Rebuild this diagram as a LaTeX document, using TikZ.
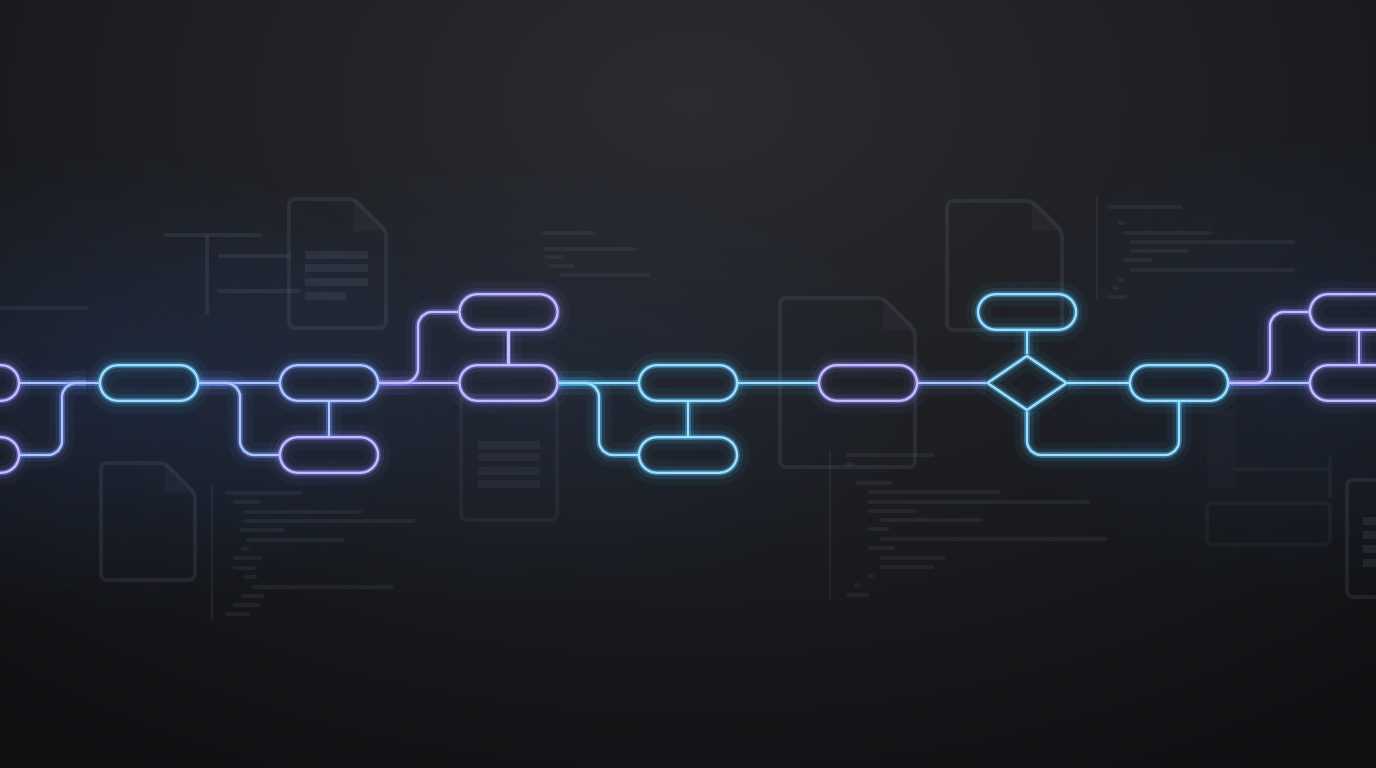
\documentclass[tikz,border=0pt]{standalone}
\usetikzlibrary{fadings,shapes.geometric,shapes.misc}
\definecolor{bgdark}{RGB}{15,16,18}
\definecolor{bgtop}{RGB}{42,44,48}
\definecolor{cy}{RGB}{80,195,255}
\definecolor{bl}{RGB}{110,150,255}
\definecolor{vi}{RGB}{145,135,255}
\definecolor{ghost}{RGB}{120,130,150}
\definecolor{haze}{RGB}{45,75,140}
\tikzfading[name=band, top color=transparent!100, middle color=transparent!60, bottom color=transparent!100]
\tikzfading[name=fuzzy, inner color=transparent!40, outer color=transparent!100]
\tikzset{
  glowline/.style={draw=#1!55!white, line width=0.65pt,
    preaction={draw=#1, line width=7pt, draw opacity=0.05},
    preaction={draw=#1, line width=3.6pt, draw opacity=0.11},
    preaction={draw=#1, line width=1.6pt, draw opacity=0.4}},
  pill/.style={rounded rectangle, minimum width=0.98cm, minimum height=0.355cm,
    inner sep=0pt, glowline=#1},
  wire/.style={glowline=#1, rounded corners=0.14cm},
  ghostline/.style={draw=ghost, draw opacity=0.15, line width=1.1pt,
    rounded corners=0.06cm, line join=round},
  codebar/.style={draw=ghost, draw opacity=0.12, line width=1.3pt, line cap=round},
}
\newcommand\ghostdoc[5]{%
  \fill[ghost, opacity=0.07] ({#3-#5},#2) -- (#3,{#2+#5}) -- ({#3-#5},{#2+#5}) -- cycle;
  \draw[ghostline] (#1,#2) -- ({#3-#5},#2) -- (#3,{#2+#5}) -- (#3,#4) -- (#1,#4) -- cycle;}
\newcommand\codebarline[3]{\draw[codebar] (#1,#3) -- (#2,#3);}
\begin{document}
\begin{tikzpicture}[x=0.01cm, y=-0.01cm]
\useasboundingbox (0,0) rectangle (1376,768);
\clip (0,0) rectangle (1376,768);
% background
\fill[bgdark] (0,0) rectangle (1376,768);
\shade[inner color=bgtop, outer color=bgdark] (690,100) ellipse (1150 and 760);
\fill[haze, path fading=band, opacity=0.22] (0,260) rectangle (1376,510);
\fill[haze, path fading=fuzzy, opacity=0.45] (100,383) ellipse (380 and 240);
\fill[haze, path fading=fuzzy, opacity=0.3] (500,383) ellipse (460 and 240);
\fill[haze, path fading=fuzzy, opacity=0.35] (1320,360) ellipse (360 and 240);

% ghost documents and panels
\draw[ghostline] (164,235) -- (262,235);
\draw[ghostline] (207,235) -- (207,315);
\draw[ghostline] (218,256) -- (290,256);
\draw[ghostline] (218,291) -- (300,291);
\ghostdoc{289}{199}{386}{328}{32}
\foreach \yy in {255,268,282} {\draw[ghostline, line width=2pt] (305,\yy) -- (368,\yy);}
\draw[ghostline, line width=2pt] (305,296) -- (346,296);
\ghostdoc{101}{463}{195}{580}{30}
\draw[ghostline, draw opacity=0.1] (461,395) rectangle (557,520);
\foreach \yy in {445,457,471,484} {\draw[ghostline, draw opacity=0.1, line width=2pt] (478,\yy) -- (540,\yy);}
\ghostdoc{780}{298}{915}{467}{32}
\ghostdoc{947}{201}{1062}{330}{30}
\draw[ghostline] (1390,480) -- (1347,480) -- (1347,597) -- (1390,597);
\foreach \yy in {521,535,549,563} {\draw[ghostline, line width=2pt] (1363,\yy) -- (1380,\yy);}
\fill[ghost, opacity=0.04] (1207,410) rectangle (1235,488);
\draw[ghostline, draw opacity=0.08] (1235,469) -- (1330,469);
\draw[ghostline, draw opacity=0.08] (1330,455) -- (1330,498);
\draw[ghostline, draw opacity=0.08] (1207,503) rectangle (1330,545);

% blurred code blocks
\draw[codebar, line cap=butt, line width=0.8pt] (212,485) -- (212,620);
\codebarline{227}{300}{493}
\codebarline{235}{258}{502}
\codebarline{245}{360}{512}
\codebarline{245}{413}{521}
\codebarline{242}{282}{530}
\codebarline{248}{342}{540}
\codebarline{243}{247}{549}
\codebarline{235}{260}{558}
\codebarline{235}{253}{568}
\codebarline{245}{255}{577}
\codebarline{253}{392}{587}
\codebarline{243}{262}{596}
\codebarline{235}{258}{605}
\codebarline{227}{248}{614}

\draw[codebar, line cap=butt, line width=0.8pt] (830,450) -- (830,600);
\codebarline{848}{932}{455}
\codebarline{848}{852}{464}
\codebarline{857}{890}{483}
\codebarline{870}{998}{492}
\codebarline{870}{1088}{502}
\codebarline{870}{915}{511}
\codebarline{882}{980}{520}
\codebarline{870}{887}{529}
\codebarline{882}{1105}{539}
\codebarline{870}{892}{548}
\codebarline{882}{943}{558}
\codebarline{882}{932}{567}
\codebarline{870}{872}{576}
\codebarline{856}{858}{585}
\codebarline{848}{867}{595}

\draw[codebar, line cap=butt, line width=0.8pt] (1097,195) -- (1097,300);
\codebarline{1110}{1180}{207}
\codebarline{1120}{1122}{223}
\codebarline{1125}{1210}{233}
\codebarline{1132}{1293}{242}
\codebarline{1132}{1187}{251}
\codebarline{1125}{1150}{260}
\codebarline{1132}{1293}{270}
\codebarline{1120}{1122}{280}
\codebarline{1115}{1117}{288}
\codebarline{1110}{1125}{297}

\codebarline{543}{593}{233}
\codebarline{545}{635}{249}
\codebarline{547}{562}{257}
\codebarline{550}{572}{266}
\codebarline{562}{648}{275}

\codebarline{0}{58}{308}
\codebarline{62}{87}{308}

% nodes
\node[pill=vi] (p0) at (-30,383) {};
\node[pill=vi] (p0b) at (-30,455) {};
\node[pill=cy] (p1) at (149,383) {};
\node[pill=bl] (p2) at (329,383) {};
\node[pill=vi] (p3) at (329,455) {};
\node[pill=vi] (p4) at (508.5,312) {};
\node[pill=vi] (p5) at (508.5,383) {};
\node[pill=cy] (p6) at (688,383) {};
\node[pill=cy] (p7) at (688,455) {};
\node[pill=vi] (p8) at (868,383) {};
\node[diamond, minimum width=0.8cm, minimum height=0.55cm, inner sep=0pt, glowline=cy] (dia) at (1027,383) {};
\node[pill=cy] (p9) at (1027,312) {};
\node[pill=cy] (p10) at (1179,383) {};
\node[pill=vi] (p11) at (1359,312) {};
\node[pill=vi] (p12) at (1359,383) {};

% junction coordinates
\coordinate (j1a) at (62,383);
\coordinate (j1b) at (86,383);
\coordinate (j2) at (240,420);
\coordinate (j3) at (418,350);
\coordinate (j4) at (599,420);
\coordinate (j5) at (1100,455);
\coordinate (j6) at (1270,350);

% connectors
\draw[wire=bl] (p0.east) -- (p1.west);
\draw[wire=bl] (p0b.east) -| (j1a) -- (j1b);
\draw[wire=bl] (p1.east) -- (p2.west);
\draw[wire=bl] (p1.east) -| (j2) |- (p3.west);
\draw[wire=bl] (p2.south) -- (p3.north);
\draw[wire=vi] (p2.east) -- (p5.west);
\draw[wire=vi] (p2.east) -| (j3) |- (p4.west);
\draw[wire=vi] (p4.south) -- (p5.north);
\draw[wire=cy] (p5.east) -- (p6.west);
\draw[wire=cy] (p5.east) -| (j4) |- (p7.west);
\draw[wire=cy] (p6.south) -- (p7.north);
\draw[wire=cy] (p6.east) -- (p8.west);
\draw[wire=bl] (p8.east) -- (dia.west);
\draw[wire=cy] (p9.south) -- (dia.north);
\draw[wire=cy] (dia.east) -- (p10.west);
\draw[wire=cy] (dia.south) |- (j5) -| (p10.south);
\draw[wire=bl] (p10.east) -- (p12.west);
\draw[wire=vi] (p10.east) -| (j6) |- (p11.west);
\draw[wire=vi] (p11.south) -- (p12.north);
\end{tikzpicture}
\end{document}
